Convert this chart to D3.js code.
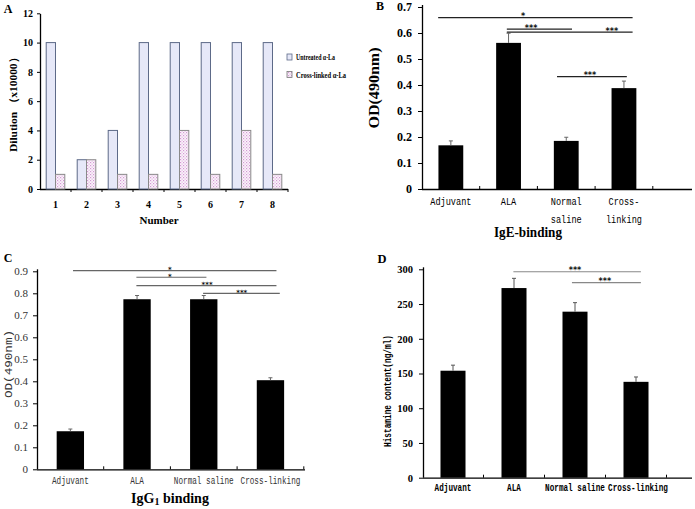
<!DOCTYPE html>
<html><head><meta charset="utf-8">
<script src="https://cdn.jsdelivr.net/npm/d3@7"></script>
<style>body{margin:0;background:#fff}svg{display:block}</style>
</head><body><svg id="c" width="695" height="509"></svg>
<script>
// ---------- data ----------
const numbers = ["1","2","3","4","5","6","7","8"];
const untreatedDilution = [10,2,4,10,10,10,10,10];
const crosslinkedDilution = [1,2,1,1,4,1,4,1];
const dilutionTicks = [0,2,4,6,8,10,12];
const legendLabels = ["Untreated α-La","Cross-linked α-La"];

const groups = ["Adjuvant","ALA","Normal saline","Cross-linking"];
const groupsTwoLine = [["Adjuvant"],["ALA"],["Normal","saline"],["Cross-","linking"]];

const igeMean = [0.168,0.562,0.185,0.388];
const igeErr  = [0.017,0.037,0.014,0.027];
const igeTicks = [0,0.1,0.2,0.3,0.4,0.5,0.6,0.7];
const igeSig = [
  {from:-0.22,to:3.15,level:0.659,label:"*",  at:1.25},
  {from:0.97, to:2.10,level:0.615,label:"***",at:1.39},
  {from:0.97, to:3.15,level:0.603,label:"***",at:2.79},
  {from:1.84, to:3.05,level:0.432,label:"***",at:2.41}
];

const igg1Mean = [0.173,0.773,0.773,0.405];
const igg1Err  = [0.010,0.017,0.017,0.011];
const igg1Ticks = [0,0.1,0.2,0.3,0.4,0.5,0.6,0.7,0.8,0.9];
const igg1Sig = [
  {from:0.04,to:3.09,level:0.903,label:"*",  at:1.49},
  {from:0.99,to:2.04,level:0.873,label:"*",  at:1.49},
  {from:0.99,to:3.09,level:0.835,label:"***",at:2.05},
  {from:1.99,to:3.14,level:0.800,label:"***",at:2.57}
];

const histMean = [154,273,239,138];
const histErr  = [8,14,13,7];
const histTicks = [0,50,100,150,200,250,300];
const histSig = [
  {from:0.99,to:3.08,level:296.5,label:"***",at:2.0},
  {from:1.95,to:3.08,level:280.7,label:"***",at:2.49}
];

// ---------- helpers ----------
const svg = d3.select("#c");
const SERIF = "'Liberation Serif','Times New Roman',serif";
const MONO = "'Liberation Mono','DejaVu Sans Mono',monospace";

function styleAxis(g, font, size, weight, color){
  g.selectAll("path.domain").attr("stroke","#000").attr("stroke-width",1.3);
  g.selectAll(".tick line").attr("stroke","#000");
  g.selectAll(".tick text").attr("font-family",font).attr("font-size",size)
    .attr("font-weight",weight).attr("fill",color||"#000");
}
function rotLabel(x, y, text, font, size, weight, len, color){
  svg.append("text").attr("transform",`translate(${x},${y}) rotate(-90)`)
    .attr("text-anchor","middle").attr("font-family",font).attr("font-size",size)
    .attr("font-weight",weight).attr("fill",color||"#000")
    .attr("textLength",len).attr("lengthAdjust","spacingAndGlyphs").text(text);
}
function txt(x,y,text,font,size,weight,anchor,len){
  const t = svg.append("text").attr("x",x).attr("y",y).attr("font-family",font)
    .attr("font-size",size).attr("font-weight",weight).attr("text-anchor",anchor||"middle").text(text);
  if(len) t.attr("textLength",len).attr("lengthAdjust","spacingAndGlyphs");
  return t;
}

function singlePanel(o){
  const x = d3.scaleBand().domain(o.cats).range([o.x0, o.x0 + o.bw*o.cats.length]);
  const y = d3.scaleLinear().domain([0, o.ymax]).range([o.y0, o.y1]);
  const idx = i => o.x0 + (i+0.5)*o.bw;
  const ga = svg.append("g").attr("transform",`translate(${o.axisX},0)`)
    .call(d3.axisLeft(y).tickValues(o.ticks).tickSize(4).tickSizeOuter(0).tickPadding(o.pad||4)
      .tickFormat(d3.format("")));
  styleAxis(ga, o.tickFont, o.tickSize, o.tickWeight, o.tickColor);
  ga.select("path.domain").attr("d",`M0.5,${o.y0}V${o.y1-2}`);
  svg.append("line").attr("x1",o.axisX).attr("x2",o.xEnd).attr("y1",o.y0+0.5).attr("y2",o.y0+0.5)
    .attr("stroke","#000").attr("stroke-width",1.3);
  o.cats.forEach((c,i)=>{
    const tx = x(c)+x.bandwidth();
    svg.append("line").attr("x1",tx).attr("x2",tx).attr("y1",o.y0).attr("y2",o.y0-3).attr("stroke","#000");
  });
  const w = o.bw*o.barFrac;
  svg.append("g").selectAll("rect").data(o.mean).join("rect")
    .attr("x",(d,i)=>x(o.cats[i])+x.bandwidth()/2-w/2).attr("width",w)
    .attr("y",d=>y(d)).attr("height",d=>o.y0-y(d)).attr("fill","#000");
  const eg = svg.append("g").attr("stroke",o.errColor||"#555").attr("stroke-width",1);
  o.mean.forEach((m,i)=>{
    const cx = x(o.cats[i])+x.bandwidth()/2;
    eg.append("line").attr("x1",cx).attr("x2",cx).attr("y1",y(m)).attr("y2",y(m+o.err[i]));
    eg.append("line").attr("x1",cx-2).attr("x2",cx+2).attr("y1",y(m+o.err[i])).attr("y2",y(m+o.err[i]));
  });
  o.sig.forEach(s=>{
    svg.append("line").attr("x1",idx(s.from)).attr("x2",idx(s.to))
      .attr("y1",y(s.level)).attr("y2",y(s.level)).attr("stroke",o.sigColor).attr("stroke-width",1.2);
    svg.append("text").attr("x",idx(s.at)).attr("y",y(s.level)+1.5).attr("text-anchor","middle")
      .attr("font-family","'DejaVu Sans',sans-serif").attr("font-weight","bold").attr("font-size",o.starSize||8)
      .attr("fill","#111").text(s.label);
  });
  return {x,y};
}

// ---------- Panel A ----------
(function(){
  const x0 = 40, bw = 31, y0 = 189;
  const x = d3.scaleBand().domain(numbers).range([x0, x0+bw*numbers.length]);
  const y = d3.scaleLinear().domain([0,12]).range([y0, 13.3]);
  const defs = svg.append("defs");
  const pat = defs.append("pattern").attr("id","dots").attr("patternUnits","userSpaceOnUse")
    .attr("width",3).attr("height",3);
  pat.append("rect").attr("width",3).attr("height",3).attr("fill","#fbf4fb");
  pat.append("rect").attr("x",0).attr("y",0).attr("width",1.2).attr("height",1.2).attr("fill","#d49ad4");
  pat.append("rect").attr("x",1.5).attr("y",1.5).attr("width",1.2).attr("height",1.2).attr("fill","#e0b4e0");
  const ga = svg.append("g").attr("transform",`translate(${x0},0)`)
    .call(d3.axisLeft(y).tickValues(dilutionTicks).tickSize(3).tickSizeOuter(0).tickPadding(4));
  styleAxis(ga, SERIF, 10, "bold");
  svg.append("line").attr("x1",x0).attr("x2",x0+bw*numbers.length).attr("y1",y0+0.5).attr("y2",y0+0.5)
    .attr("stroke","#000").attr("stroke-width",1.3);
  numbers.forEach(n=>{
    const tx = x(n)+x.bandwidth();
    svg.append("line").attr("x1",tx).attr("x2",tx).attr("y1",y0).attr("y2",y0+3).attr("stroke","#000");
    txt(x(n)+x.bandwidth()/2, 208, n, SERIF, 10, "bold");
  });
  const w = bw*0.3;
  svg.append("g").selectAll("rect").data(untreatedDilution).join("rect")
    .attr("x",(d,i)=>x(numbers[i])+x.bandwidth()/2-w).attr("width",w)
    .attr("y",d=>y(d)).attr("height",d=>y0-y(d))
    .attr("fill","#e6e8f8").attr("stroke","#5d6a88").attr("stroke-width",1);
  svg.append("g").selectAll("rect").data(crosslinkedDilution).join("rect")
    .attr("x",(d,i)=>x(numbers[i])+x.bandwidth()/2).attr("width",w)
    .attr("y",d=>y(d)).attr("height",d=>y0-y(d))
    .attr("fill","url(#dots)").attr("stroke","#8a8a8a").attr("stroke-width",1);
  legendLabels.forEach((l,i)=>{
    const ly = 54 + i*17.5;
    svg.append("rect").attr("x",287).attr("y",ly).attr("width",5).attr("height",6)
      .attr("fill", i===0?"#e6e8f8":"url(#dots)").attr("stroke", i===0?"#5d6a88":"#777").attr("stroke-width",0.8);
    txt(296, ly+6, l, SERIF, 8.5, "bold", "start", i===0?39:50);
  });
  rotLabel(17, 102, "Dilution （x10000）", SERIF, 11, "bold", 100);
  txt(159, 224, "Number", SERIF, 11, "bold");
  txt(8, 13, "A", SERIF, 12, "bold");
})();

// ---------- Panel B ----------
(function(){
  const o = {cats:groups, mean:igeMean, err:igeErr, sig:igeSig, ticks:igeTicks, ymax:0.7,
    x0:422, bw:57.7, axisX:422, xEnd:692, y0:189, y1:7, barFrac:0.43,
    tickFont:SERIF, tickSize:12, tickWeight:"bold", sigColor:"#222", errColor:"#666", pad:6};
  const {x} = singlePanel(o);
  groupsTwoLine.forEach((lines,i)=>{
    const cx = x(groups[i])+x.bandwidth()/2;
    lines.forEach((t,j)=> txt(cx, 205 + j*17.5, t, MONO, 11, "normal", "middle", t.length*5.15));
  });
  rotLabel(379, 88, "OD(490nm)", SERIF, 14, "bold", 81);
  txt(528, 237, "IgE-binding", SERIF, 15, "bold", "middle", 68);
  txt(380, 10, "B", SERIF, 12, "bold");
})();

// ---------- Panel C ----------
(function(){
  const o = {cats:groups, mean:igg1Mean, err:igg1Err, sig:igg1Sig, ticks:igg1Ticks, ymax:0.9,
    x0:37, bw:66.7, axisX:37, xEnd:305, y0:469.3, y1:271.3, barFrac:0.41, starSize:7,
    tickFont:SERIF, tickSize:11, tickWeight:"normal", tickColor:"#333", sigColor:"#666", errColor:"#666", pad:5};
  const {x} = singlePanel(o);
  groups.forEach((g,i)=>{
    txt(x(g)+x.bandwidth()/2, 484, g, MONO, 10, "normal", "middle", g.length*4.6).attr("fill","#333");
  });
  rotLabel(12, 364, "OD(490nm)", MONO, 10, "normal", 68, "#333");
  const t = svg.append("text").attr("x",170).attr("y",503).attr("text-anchor","middle")
    .attr("font-family",SERIF).attr("font-size",14).attr("font-weight","bold");
  t.append("tspan").text("IgG");
  t.append("tspan").attr("font-size",10).attr("dy",2).text("1");
  t.append("tspan").attr("dy",-2).text(" binding");
  txt(8, 262, "C", SERIF, 12, "bold");
})();

// ---------- Panel D ----------
(function(){
  const o = {cats:groups, mean:histMean, err:histErr, sig:histSig, ticks:histTicks, ymax:300,
    x0:422.5, bw:61, axisX:423, xEnd:692, y0:477.7, y1:269.3, barFrac:0.41,
    tickFont:SERIF, tickSize:10.5, tickWeight:"bold", sigColor:"#888", errColor:"#555", pad:6};
  const {x} = singlePanel(o);
  groups.forEach((g,i)=>{
    const cx = x(g)+x.bandwidth()/2 + (i===3?2:0);
    txt(cx, 491, g, MONO, 10.5, "bold", "middle", g.length*4.6);
  });
  rotLabel(391, 391, "Histamine content(ng/ml)", MONO, 10.5, "bold", 112);
  txt(382, 263, "D", SERIF, 12.5, "bold");
})();
</script></body></html>
